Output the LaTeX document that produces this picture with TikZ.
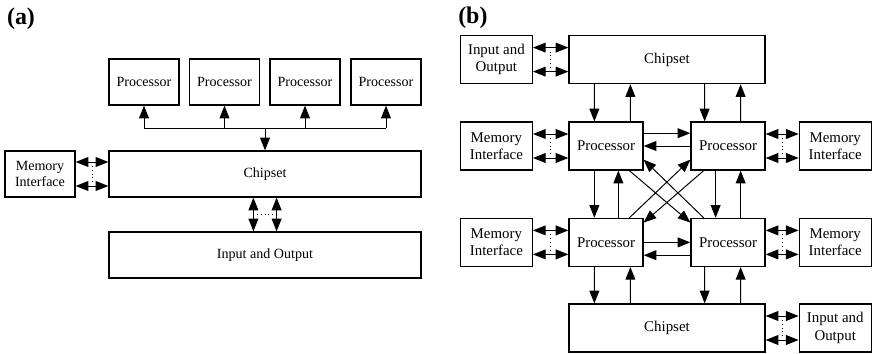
\documentclass[tikz,border=0pt]{standalone}
\usepackage{fontspec}
\setmainfont{Liberation Serif}
\usetikzlibrary{arrows.meta,calc}
\pgfdeclarelayer{edgelayer}
\pgfdeclarelayer{nodelayer}
\pgfsetlayers{edgelayer,nodelayer,main}
\tikzset{
    unit/.style={rectangle, draw=black, fill=white, line width=0.9pt, align=center, inner sep=1pt, font=\fontsize{10}{12}\selectfont},
    smallA/.style={unit, minimum width=1.75cm, minimum height=1.15cm},
    wideA/.style={unit, minimum width=7.8cm, minimum height=1.15cm},
    unitB/.style={unit, font=\fontsize{10.6}{12.4}\selectfont},
    sideB/.style={unitB, minimum width=1.8cm, minimum height=1.2cm},
    procB/.style={unitB, minimum width=1.85cm, minimum height=1.2cm},
    chipB/.style={unitB, minimum width=4.9cm, minimum height=1.2cm},
    tag/.style={anchor=west, inner sep=0pt, font=\bfseries\fontsize{17}{20}\selectfont},
    head/.tip={Triangle[length=9pt,width=7pt]},
    link/.style={-head, draw=black, line width=0.7pt},
    dlink/.style={head-head, draw=black, line width=0.7pt},
    gap/.style={dotted, draw=black, line width=0.7pt}
}

\begin{document}
\begin{tikzpicture}
            \useasboundingbox (0, 0) rectangle (21.8, -8.825);
            \begin{pgfonlayer}{nodelayer}
                \node [style=tag] (labA) at (0.17, -0.47) {(a)};
                \node [style=smallA] (procA1) at (3.6, -2.05) {Processor};
                \node [style=smallA] (procA2) at (5.6125, -2.05) {Processor};
                \node [style=smallA] (procA3) at (7.625, -2.05) {Processor};
                \node [style=smallA] (procA4) at (9.65, -2.05) {Processor};
                \node [style=wideA] (chipA) at (6.625, -4.35) {Chipset};
                \node [style=smallA] (memA) at (1.0, -4.35) {Memory\\Interface};
                \node [style=wideA] (ioA) at (6.625, -6.375) {Input and Output};
                \coordinate (busA) at (6.625, -3.2);

                \node [style=tag] (labB) at (11.45, -0.45) {(b)};
                \node [style=sideB] (ioB1) at (12.41, -1.49) {Input and\\Output};
                \node [style=chipB] (chipB1) at (16.675, -1.49) {Chipset};
                \node [style=sideB] (memB1) at (12.41, -3.65) {Memory\\Interface};
                \node [style=procB] (procB1) at (15.15, -3.65) {Processor};
                \node [style=procB] (procB2) at (18.2, -3.65) {Processor};
                \node [style=sideB] (memB2) at (20.88, -3.65) {Memory\\Interface};
                \node [style=sideB] (memB3) at (12.41, -6.06) {Memory\\Interface};
                \node [style=procB] (procB3) at (15.15, -6.06) {Processor};
                \node [style=procB] (procB4) at (18.2, -6.06) {Processor};
                \node [style=sideB] (memB4) at (20.88, -6.06) {Memory\\Interface};
                \node [style=chipB] (chipB2) at (16.675, -8.2) {Chipset};
                \node [style=sideB] (ioB2) at (20.88, -8.2) {Input and\\Output};
            \end{pgfonlayer}
            \begin{pgfonlayer}{edgelayer}
                % (a) shared bus
                \draw [line width=0.7pt] (procA1.south |- busA) -- (procA4.south |- busA);
                \foreach \i in {1,...,4}
                    \draw [style=link] (procA\i.south |- busA) -- (procA\i.south);
                \draw [style=link] (busA) -- (chipA.north);
                \draw [style=dlink] ([xshift=-0.29cm]chipA.south) -- ([xshift=-0.29cm]ioA.north);
                \draw [style=dlink] ([xshift=0.29cm]chipA.south) -- ([xshift=0.29cm]ioA.north);
                \draw [style=gap] ($(chipA.south)!0.5!(ioA.north)-(0.2,0)$) -- ($(chipA.south)!0.5!(ioA.north)+(0.2,0)$);

                % side links, left to right
                \foreach \l/\r in {memA/chipA, ioB1/chipB1, memB1/procB1, memB3/procB3, procB2/memB2, procB4/memB4, chipB2/ioB2} {
                    \draw [style=dlink] ([yshift=0.3cm]\l.east) -- ([yshift=0.3cm]\r.west);
                    \draw [style=dlink] ([yshift=-0.3cm]\l.east) -- ([yshift=-0.3cm]\r.west);
                    \draw [style=gap] ($(\l.east)!0.5!(\r.west)+(0,0.2)$) -- ($(\l.east)!0.5!(\r.west)-(0,0.2)$);
                }

                % (b) chipsets to processors
                \draw [style=link] ([xshift=0.65cm]chipB1.south west) -- ([xshift=0.65cm]procB1.north west);
                \draw [style=link] ([xshift=1.55cm]procB1.north west) -- ([xshift=1.55cm]chipB1.south west);
                \draw [style=link] ([xshift=-1.525cm]chipB1.south east) -- ([xshift=-1.525cm]procB2.north east);
                \draw [style=link] ([xshift=-0.625cm]procB2.north east) -- ([xshift=-0.625cm]chipB1.south east);
                \draw [style=link] ([xshift=0.65cm]procB3.south west) -- ([xshift=0.65cm]chipB2.north west);
                \draw [style=link] ([xshift=1.55cm]chipB2.north west) -- ([xshift=1.55cm]procB3.south west);
                \draw [style=link] ([xshift=-1.525cm]procB4.south east) -- ([xshift=-1.525cm]chipB2.north east);
                \draw [style=link] ([xshift=-0.625cm]chipB2.north east) -- ([xshift=-0.625cm]procB4.south east);

                % (b) processor mesh
                \draw [style=link] ([yshift=0.32cm]procB1.east) -- ([yshift=0.32cm]procB2.west);
                \draw [style=link] (procB2.west) -- (procB1.east);
                \draw [style=link] (procB3.east) -- (procB4.west);
                \draw [style=link] ([yshift=-0.32cm]procB4.west) -- ([yshift=-0.32cm]procB3.east);
                \draw [style=link] ([xshift=0.65cm]procB1.south west) -- ([xshift=0.65cm]procB3.north west);
                \draw [style=link] ([xshift=1.25cm]procB3.north west) -- ([xshift=1.25cm]procB1.south west);
                \draw [style=link] ([xshift=-1.25cm]procB2.south east) -- ([xshift=-1.25cm]procB4.north east);
                \draw [style=link] ([xshift=-0.625cm]procB4.north east) -- ([xshift=-0.625cm]procB2.south east);
                \draw [style=link] ([xshift=1.525cm]procB1.south west) -- ([yshift=-0.12cm]procB4.north west);
                \draw [style=link] ([xshift=-1.55cm]procB4.north east) -- ([yshift=0.275cm]procB1.south east);
                \draw [style=link] ([xshift=1.525cm]procB3.north west) -- ([yshift=0.275cm]procB2.south west);
                \draw [style=link] ([xshift=-1.55cm]procB2.south east) -- ([yshift=-0.12cm]procB3.north east);
            \end{pgfonlayer}
        \end{tikzpicture}
\end{document}
